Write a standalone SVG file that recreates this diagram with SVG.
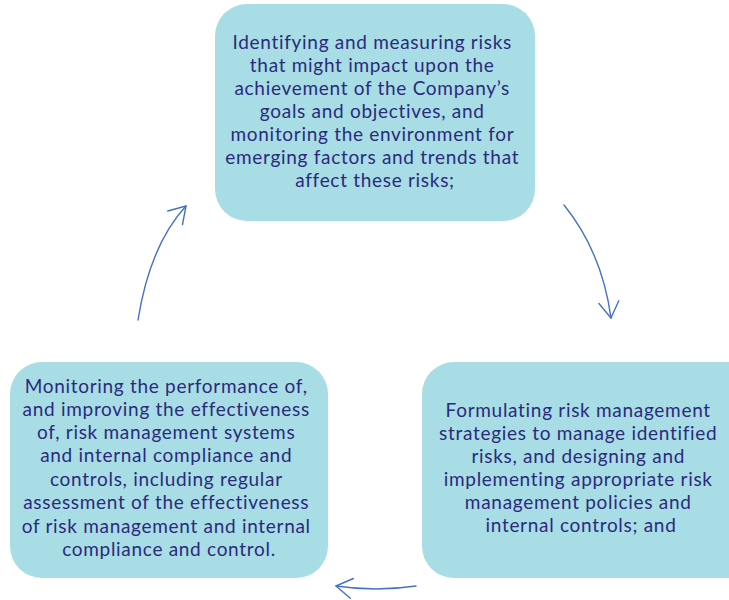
<svg xmlns="http://www.w3.org/2000/svg" width="729" height="600" viewBox="0 0 729 600">
<style>
.box{fill:#a8dde5;}
.t{font-family:Lato,"Open Sans",sans-serif;font-size:19px;letter-spacing:0.7px;fill:#2b2a7c;text-anchor:middle;}
.arr{fill:none;stroke:#4472c4;stroke-width:1.4;stroke-linecap:round;}
</style>
<defs>
<marker id="ah" markerUnits="userSpaceOnUse" orient="auto" markerWidth="40" markerHeight="40" refX="0" refY="0" viewBox="-20 -20 40 40" overflow="visible">
<path d="M-16,-10 L0,0 L-16,10" fill="none" stroke="#4472c4" stroke-width="1.4" stroke-linecap="round" stroke-linejoin="round"/>
</marker>
</defs>
<rect width="729" height="600" fill="#ffffff"/>
<g id="node-identify">
<rect class="box" x="215" y="4" width="320" height="217" rx="32"/>
<text class="t">
<tspan x="375" y="49">Identifying and measuring risks</tspan>
<tspan x="375" y="72">that might impact upon the</tspan>
<tspan x="375" y="95">achievement of the Company’s</tspan>
<tspan x="375" y="118">goals and objectives, and</tspan>
<tspan x="375" y="141">monitoring the environment for</tspan>
<tspan x="375" y="164">emerging factors and trends that</tspan>
<tspan x="375" y="187">affect these risks;</tspan>
</text>
</g>
<g id="node-formulate">
<rect class="box" x="422" y="362" width="340" height="216" rx="32"/>
<text class="t">
<tspan x="581" y="417">Formulating risk management</tspan>
<tspan x="581" y="440">strategies to manage identified</tspan>
<tspan x="581" y="463">risks, and designing and</tspan>
<tspan x="581" y="486">implementing appropriate risk</tspan>
<tspan x="581" y="509">management policies and</tspan>
<tspan x="581" y="532">internal controls; and</tspan>
</text>
</g>
<g id="node-monitor">
<rect class="box" x="10" y="362" width="318" height="216" rx="32"/>
<text class="t">
<tspan x="169" y="393">Monitoring the performance of,</tspan>
<tspan x="169" y="416">and improving the effectiveness</tspan>
<tspan x="169" y="439">of, risk management systems</tspan>
<tspan x="169" y="462">and internal compliance and</tspan>
<tspan x="169" y="486">controls, including regular</tspan>
<tspan x="169" y="509">assessment of the effectiveness</tspan>
<tspan x="169" y="533">of risk management and internal</tspan>
<tspan x="169" y="556">compliance and control.</tspan>
</text>
</g>
<g id="connectors">
<path class="arr" d="M138,320 Q150,245 186,206" marker-end="url(#ah)"/>
<path class="arr" d="M564,205 Q602,252 611,318" marker-end="url(#ah)"/>
<path class="arr" d="M416,586 Q376,592 336,586" marker-end="url(#ah)"/>
</g>
</svg>
